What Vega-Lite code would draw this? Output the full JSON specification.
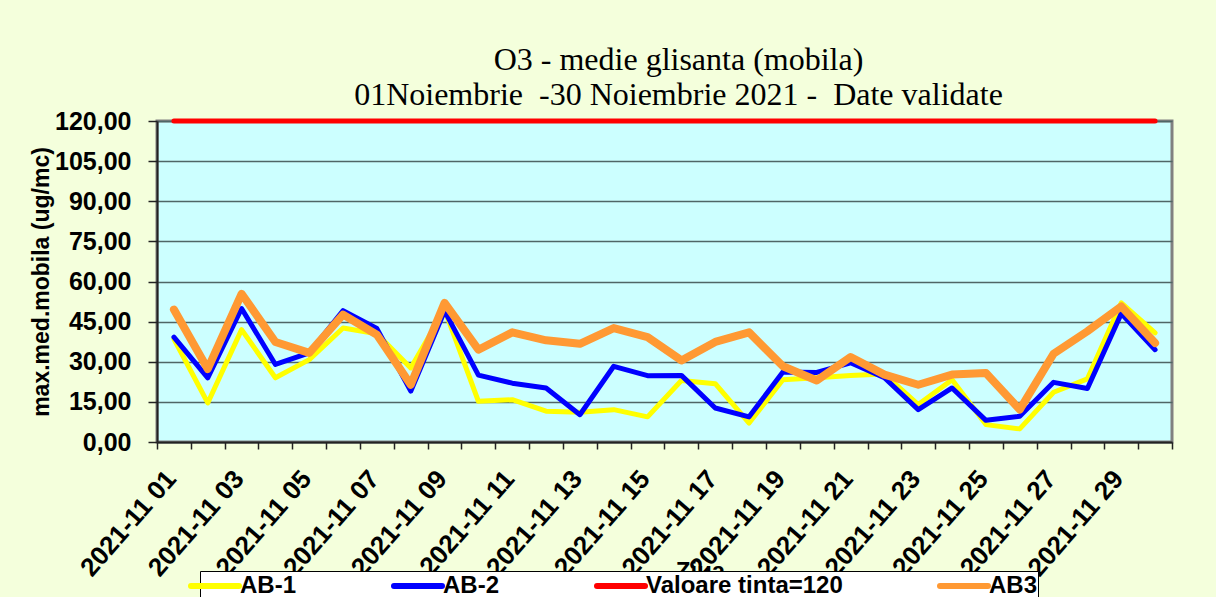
{
  "$schema": "https://vega.github.io/schema/vega-lite/v6.json",
  "width": 1015,
  "height": 321,
  "autosize": {"type": "none"},
  "padding": {"left": 157, "top": 121, "right": 44, "bottom": 155},
  "background": "#F4FFDC",
  "title": {
    "text": ["O3 - medie glisanta (mobila)", " 01Noiembrie \u00a0-30 Noiembrie 2021 - \u00a0Date validate"],
    "font": "Liberation Serif",
    "fontSize": 32,
    "fontWeight": "normal",
    "color": "black",
    "lineHeight": 35,
    "frame": "group",
    "anchor": "middle",
    "offset": -3,
    "dx": 14
  },
  "data": {
    "values": [
      {"day": "2021-11 01", "series": "AB-1", "v": 38.5}, {"day": "2021-11 01", "series": "AB-2", "v": 39.2}, {"day": "2021-11 01", "series": "AB3", "v": 49.5}, {"day": "2021-11 01", "series": "Valoare tinta=120", "v": 120},
      {"day": "2021-11 02", "series": "AB-1", "v": 14.6}, {"day": "2021-11 02", "series": "AB-2", "v": 24.0}, {"day": "2021-11 02", "series": "AB3", "v": 27.3}, {"day": "2021-11 02", "series": "Valoare tinta=120", "v": 120},
      {"day": "2021-11 03", "series": "AB-1", "v": 42.0}, {"day": "2021-11 03", "series": "AB-2", "v": 49.9}, {"day": "2021-11 03", "series": "AB3", "v": 55.4}, {"day": "2021-11 03", "series": "Valoare tinta=120", "v": 120},
      {"day": "2021-11 04", "series": "AB-1", "v": 24.0}, {"day": "2021-11 04", "series": "AB-2", "v": 29.0}, {"day": "2021-11 04", "series": "AB3", "v": 37.4}, {"day": "2021-11 04", "series": "Valoare tinta=120", "v": 120},
      {"day": "2021-11 05", "series": "AB-1", "v": 30.8}, {"day": "2021-11 05", "series": "AB-2", "v": 33.3}, {"day": "2021-11 05", "series": "AB3", "v": 33.3}, {"day": "2021-11 05", "series": "Valoare tinta=120", "v": 120},
      {"day": "2021-11 06", "series": "AB-1", "v": 42.6}, {"day": "2021-11 06", "series": "AB-2", "v": 49.1}, {"day": "2021-11 06", "series": "AB3", "v": 47.6}, {"day": "2021-11 06", "series": "Valoare tinta=120", "v": 120},
      {"day": "2021-11 07", "series": "AB-1", "v": 40.5}, {"day": "2021-11 07", "series": "AB-2", "v": 42.4}, {"day": "2021-11 07", "series": "AB3", "v": 40.1}, {"day": "2021-11 07", "series": "Valoare tinta=120", "v": 120},
      {"day": "2021-11 08", "series": "AB-1", "v": 27.7}, {"day": "2021-11 08", "series": "AB-2", "v": 19.0}, {"day": "2021-11 08", "series": "AB3", "v": 21.4}, {"day": "2021-11 08", "series": "Valoare tinta=120", "v": 120},
      {"day": "2021-11 09", "series": "AB-1", "v": 49.5}, {"day": "2021-11 09", "series": "AB-2", "v": 49.0}, {"day": "2021-11 09", "series": "AB3", "v": 52.0}, {"day": "2021-11 09", "series": "Valoare tinta=120", "v": 120},
      {"day": "2021-11 10", "series": "AB-1", "v": 15.2}, {"day": "2021-11 10", "series": "AB-2", "v": 25.0}, {"day": "2021-11 10", "series": "AB3", "v": 34.5}, {"day": "2021-11 10", "series": "Valoare tinta=120", "v": 120},
      {"day": "2021-11 11", "series": "AB-1", "v": 15.8}, {"day": "2021-11 11", "series": "AB-2", "v": 22.0}, {"day": "2021-11 11", "series": "AB3", "v": 41.0}, {"day": "2021-11 11", "series": "Valoare tinta=120", "v": 120},
      {"day": "2021-11 12", "series": "AB-1", "v": 11.5}, {"day": "2021-11 12", "series": "AB-2", "v": 20.2}, {"day": "2021-11 12", "series": "AB3", "v": 38.0}, {"day": "2021-11 12", "series": "Valoare tinta=120", "v": 120},
      {"day": "2021-11 13", "series": "AB-1", "v": 11.1}, {"day": "2021-11 13", "series": "AB-2", "v": 10.2}, {"day": "2021-11 13", "series": "AB3", "v": 36.7}, {"day": "2021-11 13", "series": "Valoare tinta=120", "v": 120},
      {"day": "2021-11 14", "series": "AB-1", "v": 12.1}, {"day": "2021-11 14", "series": "AB-2", "v": 28.3}, {"day": "2021-11 14", "series": "AB3", "v": 42.6}, {"day": "2021-11 14", "series": "Valoare tinta=120", "v": 120},
      {"day": "2021-11 15", "series": "AB-1", "v": 9.4}, {"day": "2021-11 15", "series": "AB-2", "v": 24.8}, {"day": "2021-11 15", "series": "AB3", "v": 39.2}, {"day": "2021-11 15", "series": "Valoare tinta=120", "v": 120},
      {"day": "2021-11 16", "series": "AB-1", "v": 23.0}, {"day": "2021-11 16", "series": "AB-2", "v": 24.9}, {"day": "2021-11 16", "series": "AB3", "v": 30.5}, {"day": "2021-11 16", "series": "Valoare tinta=120", "v": 120},
      {"day": "2021-11 17", "series": "AB-1", "v": 21.8}, {"day": "2021-11 17", "series": "AB-2", "v": 12.7}, {"day": "2021-11 17", "series": "AB3", "v": 37.4}, {"day": "2021-11 17", "series": "Valoare tinta=120", "v": 120},
      {"day": "2021-11 18", "series": "AB-1", "v": 7.1}, {"day": "2021-11 18", "series": "AB-2", "v": 9.4}, {"day": "2021-11 18", "series": "AB3", "v": 41.0}, {"day": "2021-11 18", "series": "Valoare tinta=120", "v": 120},
      {"day": "2021-11 19", "series": "AB-1", "v": 23.3}, {"day": "2021-11 19", "series": "AB-2", "v": 26.2}, {"day": "2021-11 19", "series": "AB3", "v": 28.3}, {"day": "2021-11 19", "series": "Valoare tinta=120", "v": 120},
      {"day": "2021-11 20", "series": "AB-1", "v": 24.0}, {"day": "2021-11 20", "series": "AB-2", "v": 26.0}, {"day": "2021-11 20", "series": "AB3", "v": 23.0}, {"day": "2021-11 20", "series": "Valoare tinta=120", "v": 120},
      {"day": "2021-11 21", "series": "AB-1", "v": 24.9}, {"day": "2021-11 21", "series": "AB-2", "v": 29.6}, {"day": "2021-11 21", "series": "AB3", "v": 31.8}, {"day": "2021-11 21", "series": "Valoare tinta=120", "v": 120},
      {"day": "2021-11 22", "series": "AB-1", "v": 25.4}, {"day": "2021-11 22", "series": "AB-2", "v": 24.0}, {"day": "2021-11 22", "series": "AB3", "v": 25.2}, {"day": "2021-11 22", "series": "Valoare tinta=120", "v": 120},
      {"day": "2021-11 23", "series": "AB-1", "v": 14.0}, {"day": "2021-11 23", "series": "AB-2", "v": 12.1}, {"day": "2021-11 23", "series": "AB3", "v": 21.4}, {"day": "2021-11 23", "series": "Valoare tinta=120", "v": 120},
      {"day": "2021-11 24", "series": "AB-1", "v": 23.3}, {"day": "2021-11 24", "series": "AB-2", "v": 20.2}, {"day": "2021-11 24", "series": "AB3", "v": 25.2}, {"day": "2021-11 24", "series": "Valoare tinta=120", "v": 120},
      {"day": "2021-11 25", "series": "AB-1", "v": 6.5}, {"day": "2021-11 25", "series": "AB-2", "v": 8.1}, {"day": "2021-11 25", "series": "AB3", "v": 25.8}, {"day": "2021-11 25", "series": "Valoare tinta=120", "v": 120},
      {"day": "2021-11 26", "series": "AB-1", "v": 4.9}, {"day": "2021-11 26", "series": "AB-2", "v": 9.6}, {"day": "2021-11 26", "series": "AB3", "v": 12.1}, {"day": "2021-11 26", "series": "Valoare tinta=120", "v": 120},
      {"day": "2021-11 27", "series": "AB-1", "v": 18.6}, {"day": "2021-11 27", "series": "AB-2", "v": 22.3}, {"day": "2021-11 27", "series": "AB3", "v": 33.0}, {"day": "2021-11 27", "series": "Valoare tinta=120", "v": 120},
      {"day": "2021-11 28", "series": "AB-1", "v": 23.6}, {"day": "2021-11 28", "series": "AB-2", "v": 20.0}, {"day": "2021-11 28", "series": "AB3", "v": 41.4}, {"day": "2021-11 28", "series": "Valoare tinta=120", "v": 120},
      {"day": "2021-11 29", "series": "AB-1", "v": 52.0}, {"day": "2021-11 29", "series": "AB-2", "v": 48.0}, {"day": "2021-11 29", "series": "AB3", "v": 50.7}, {"day": "2021-11 29", "series": "Valoare tinta=120", "v": 120},
      {"day": "2021-11 30", "series": "AB-1", "v": 40.8}, {"day": "2021-11 30", "series": "AB-2", "v": 34.5}, {"day": "2021-11 30", "series": "AB3", "v": 37.0}, {"day": "2021-11 30", "series": "Valoare tinta=120", "v": 120}
    ]
  },
  "encoding": {
    "x": {
      "field": "day",
      "type": "ordinal",
      "scale": {"type": "band", "paddingInner": 0, "paddingOuter": 0},
      "axis": {
        "title": "Ziua",
        "titleFont": "Liberation Sans",
        "titleFontSize": 24,
        "titleFontWeight": "bold",
        "titleColor": "black",
        "titleAlign": "center",
        "titleBaseline": "top",
        "titleX": 543,
        "titleY": 117,
        "tickBand": "extent",
        "labelExpr": "toNumber(substring(datum.value, 8)) % 2 == 1 ? datum.value : ''",
        "labelAngle": -49,
        "labelAlign": "right",
        "labelBaseline": "middle",
        "labelFont": "Liberation Sans",
        "labelFontSize": 26,
        "labelFontWeight": "bold",
        "labelColor": "black",
        "labelOverlap": false,
        "labelPadding": 25,
        "labelOffset": -3,
        "tickSize": 7,
        "tickColor": "#222222",
        "tickWidth": 1.5,
        "domainColor": "#222222",
        "domainWidth": 2,
        "grid": false
      }
    },
    "y": {
      "field": "v",
      "type": "quantitative",
      "scale": {"domain": [0, 120]},
      "axis": {
        "values": [0, 15, 30, 45, 60, 75, 90, 105, 120],
        "labelExpr": "replace(format(datum.value, '.2f'), '.', ',')",
        "labelFont": "Liberation Sans",
        "labelFontSize": 25,
        "labelFontWeight": "bold",
        "labelColor": "black",
        "labelPadding": 17,
        "tickSize": 9,
        "tickColor": "#222222",
        "tickWidth": 1.5,
        "domainColor": "#222222",
        "domainWidth": 2,
        "grid": true,
        "gridColor": "#4F6666",
        "gridWidth": 1.5,
        "title": "max.med.mobila (ug/mc)",
        "titleFont": "Liberation Sans",
        "titleFontSize": 23,
        "titleFontWeight": "bold",
        "titleColor": "black",
        "titlePadding": 1
      }
    },
    "color": {
      "field": "series",
      "type": "nominal",
      "scale": {
        "domain": ["AB-1", "AB-2", "Valoare tinta=120", "AB3"],
        "range": ["#FFFF00", "#0000FF", "#FF0000", "#FF9933"]
      },
      "legend": {
        "orient": "none",
        "legendX": 43,
        "legendY": 450,
        "direction": "horizontal",
        "title": null,
        "symbolType": "M-2,0H2",
        "symbolSize": 576,
        "symbolStrokeWidth": 6,
        "labelFont": "Liberation Sans",
        "labelFontSize": 24,
        "labelFontWeight": "bold",
        "labelColor": "black",
        "labelOffset": 10,
        "labelLimit": 400,
        "columnPadding": 85,
        "fillColor": "white",
        "strokeColor": "black",
        "padding": 0,
        "encode": {"symbols": {"update": {"strokeCap": {"value": "round"}}}}
      }
    }
  },
  "layer": [
    {"transform": [{"filter": "datum.series === 'AB-1'"}], "mark": {"type": "line", "strokeWidth": 5, "strokeJoin": "round", "strokeCap": "round"}},
    {"transform": [{"filter": "datum.series === 'AB-2'"}], "mark": {"type": "line", "strokeWidth": 5, "strokeJoin": "round", "strokeCap": "round"}},
    {"transform": [{"filter": "datum.series === 'Valoare tinta=120'"}], "mark": {"type": "line", "strokeWidth": 5, "strokeJoin": "round", "strokeCap": "round"}},
    {"transform": [{"filter": "datum.series === 'AB3'"}], "mark": {"type": "line", "strokeWidth": 8, "strokeJoin": "round", "strokeCap": "round"}}
  ],
  "config": {
    "view": {"fill": "#CCFFFF", "stroke": "#808080", "strokeWidth": 3}
  }
}
